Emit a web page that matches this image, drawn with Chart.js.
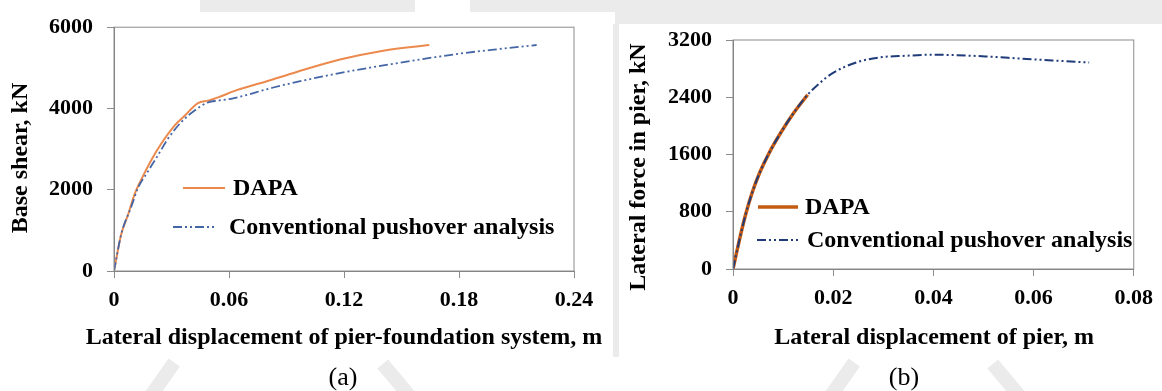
<!DOCTYPE html>
<html>
<head>
<meta charset="utf-8">
<script src="https://cdn.jsdelivr.net/npm/chart.js@4.4.0/dist/chart.umd.min.js"></script>
<style>
  body { margin: 0; width: 1162px; height: 391px; background: #fff; position: relative; overflow: hidden; font-family: "Liberation Serif", serif; }
  .wm { position: absolute; background: #ebebeb; }
  canvas { position: absolute; top: 0; }
  .cap { position: absolute; top: 362px; width: 60px; font-size: 26px; line-height: 30px; text-align: center; color: #000; }
</style>
</head>
<body>
<!-- faint backdrop behind the two panels -->
<div class="wm" style="left:200px;top:0;width:215px;height:12px"></div>
<div class="wm" style="left:470px;top:0;width:692px;height:12px"></div>
<div class="wm" style="left:615px;top:12px;width:547px;height:12px"></div>
<div class="wm" style="left:613px;top:24px;width:6px;height:333px"></div>
<div class="wm" style="left:150px;top:357px;width:14px;height:60px;transform:rotate(35deg)"></div>
<div class="wm" style="left:395px;top:357px;width:14px;height:60px;transform:rotate(-40deg)"></div>
<div class="wm" style="left:830px;top:357px;width:14px;height:60px;transform:rotate(35deg)"></div>
<div class="wm" style="left:1005px;top:357px;width:14px;height:60px;transform:rotate(-40deg)"></div>

<canvas id="chartA" width="612" height="391" style="left:0"></canvas>
<canvas id="chartB" width="562" height="391" style="left:600px"></canvas>
<div class="cap" style="left:313px">(a)</div>
<div class="cap" style="left:874px">(b)</div>

<script>
// (a) pier-foundation system
const dispA_dapa = [0, 0.0038, 0.0073, 0.0108, 0.0142, 0.0195, 0.0247, 0.0317, 0.037, 0.0438, 0.0491, 0.0543, 0.064, 0.0797, 0.0953, 0.1179, 0.1405, 0.1645];
const shearA_dapa = [0, 910, 1380, 1900, 2250, 2734, 3137, 3585, 3828, 4134, 4193, 4273, 4451, 4670, 4898, 5204, 5423, 5562];
const dispA_conv = [0, 0.0038, 0.009, 0.0125, 0.0177, 0.023, 0.0282, 0.0351, 0.0421, 0.0491, 0.0543, 0.0622, 0.0831, 0.1144, 0.1457, 0.1805, 0.2014, 0.2205];
const shearA_conv = [0, 910, 1580, 2043, 2449, 2855, 3259, 3665, 3950, 4151, 4193, 4249, 4516, 4840, 5100, 5350, 5465, 5562];
const xTicksA = ['0', '0.06', '0.12', '0.18', '0.24'];
const yTicksA = ['0', '2000', '4000', '6000'];

// (b) pier only
const dispB_dapa = [0, 0.0007, 0.0016, 0.0026, 0.0038, 0.0053, 0.0072, 0.0095, 0.0121, 0.0149];
const forceB_dapa = [0, 224, 503, 782, 1062, 1341, 1620, 1900, 2179, 2435];
const dispB_conv = [0, 0.0007, 0.0016, 0.0026, 0.0038, 0.0053, 0.0072, 0.0095, 0.0121, 0.0149, 0.0173, 0.0199, 0.0246, 0.0292, 0.0345, 0.0398, 0.0438, 0.0504, 0.0571, 0.0637, 0.0711];
const forceB_conv = [0, 224, 503, 782, 1062, 1341, 1620, 1900, 2179, 2435, 2598, 2738, 2886, 2956, 2980, 2994, 2990, 2970, 2942, 2914, 2886];
const xTicksB = ['0', '0.02', '0.04', '0.06', '0.08'];
const yTicksB = ['0', '800', '1600', '2400', '3200'];

const seriesNames = ['DAPA', 'Conventional pushover analysis'];
const dashDotDot = [9, 3, 2, 3, 2, 3];

const toPoints = (xs, ys) => xs.map((x, i) => ({x: x, y: ys[i]}));

// box around the plot, axis titles and the inset legend
const decor = {
  id: 'decor',
  afterDraw(chart, args, opts) {
    const {ctx, chartArea: a} = chart;
    ctx.save();
    ctx.strokeStyle = '#8c8c8c';
    ctx.lineWidth = 1;
    ctx.strokeRect(a.left, a.top, a.right - a.left, a.bottom - a.top);

    ctx.fillStyle = '#000';
    ctx.font = 'bold 24px "Liberation Serif"';
    ctx.textAlign = 'center';
    ctx.textBaseline = 'middle';
    ctx.fillText(opts.xTitle, opts.xTitleAt[0], opts.xTitleAt[1]);
    ctx.save();
    ctx.translate(opts.yTitleAt[0], opts.yTitleAt[1]);
    ctx.rotate(-Math.PI / 2);
    ctx.fillText(opts.yTitle, 0, 0);
    ctx.restore();

    ctx.textAlign = 'left';
    chart.data.datasets.forEach((ds, i) => {
      const it = opts.legend[i];
      ctx.save();
      ctx.strokeStyle = ds.borderColor;
      ctx.lineWidth = ds.borderWidth;
      ctx.setLineDash(ds.borderDash || []);
      ctx.beginPath();
      ctx.moveTo(it.x0, it.y);
      ctx.lineTo(it.x1, it.y);
      ctx.stroke();
      ctx.restore();
      ctx.fillText(ds.label, it.tx, it.y + 1);
    });
    ctx.restore();
  }
};

function makeChart(id, cfg) {
  const tickFont = {family: 'Liberation Serif', size: 22, weight: 'bold'};
  return new Chart(document.getElementById(id), {
    type: 'line',
    data: {datasets: cfg.datasets},
    options: {
      responsive: false,
      animation: false,
      devicePixelRatio: 1,
      layout: {padding: cfg.padding},
      elements: {point: {radius: 0}, line: {cubicInterpolationMode: 'monotone'}},
      plugins: {legend: {display: false}, tooltip: {enabled: false}, decor: cfg.decor},
      scales: {
        x: {
          type: 'linear', min: 0, max: cfg.xMax,
          afterBuildTicks: s => { s.ticks = cfg.xTicks.map(t => ({value: parseFloat(t)})); },
          afterFit: s => { s.height = 40; },
          ticks: {color: '#000', font: tickFont, padding: 9, maxRotation: 0,
                  callback: (v, i) => cfg.xTicks[i]},
          grid: {drawOnChartArea: false, tickLength: 7, color: '#8c8c8c'},
          border: {color: '#7f7f7f'}
        },
        y: {
          min: 0, max: cfg.yMax,
          afterBuildTicks: s => { s.ticks = cfg.yTicks.map(t => ({value: parseFloat(t)})); },
          afterFit: s => { s.width = cfg.yWidth; },
          ticks: {color: '#000', font: tickFont, padding: 14,
                  callback: (v, i) => cfg.yTicks[i]},
          grid: {drawOnChartArea: false, tickLength: 7, color: '#8c8c8c'},
          border: {color: '#7f7f7f'}
        }
      }
    },
    plugins: [decor]
  });
}

makeChart('chartA', {
  xMax: 0.24, yMax: 6000, xTicks: xTicksA, yTicks: yTicksA, yWidth: 114,
  padding: {left: 0, top: 24, right: 38, bottom: 80},
  datasets: [
    {label: seriesNames[0], data: toPoints(dispA_dapa, shearA_dapa), borderColor: '#ec8a4e', borderWidth: 2, order: 1},
    {label: seriesNames[1], data: toPoints(dispA_conv, shearA_conv), borderColor: '#4466a6', borderWidth: 1.8, borderDash: dashDotDot, order: 0}
  ],
  decor: {
    xTitle: 'Lateral displacement of pier-foundation system, m', xTitleAt: [344, 338],
    yTitle: 'Base shear, kN', yTitleAt: [21, 158],
    legend: [
      {x0: 183, x1: 225, y: 188, tx: 233},
      {x0: 173, x1: 217, y: 227, tx: 229}
    ]
  }
});

makeChart('chartB', {
  xMax: 0.08, yMax: 3200, xTicks: xTicksB, yTicks: yTicksB, yWidth: 133,
  padding: {left: 0, top: 40, right: 26, bottom: 82},
  datasets: [
    {label: seriesNames[0], data: toPoints(dispB_dapa, forceB_dapa), borderColor: '#c55a11', borderWidth: 3.5, order: 1},
    {label: seriesNames[1], data: toPoints(dispB_conv, forceB_conv), borderColor: '#1f3b7a', borderWidth: 2, borderDash: dashDotDot, order: 0}
  ],
  decor: {
    xTitle: 'Lateral displacement of pier, m', xTitleAt: [334, 338],
    yTitle: 'Lateral force in pier, kN', yTitleAt: [39, 167],
    legend: [
      {x0: 158, x1: 198, y: 207, tx: 205},
      {x0: 157, x1: 198, y: 240, tx: 207}
    ]
  }
});
</script>
</body>
</html>
